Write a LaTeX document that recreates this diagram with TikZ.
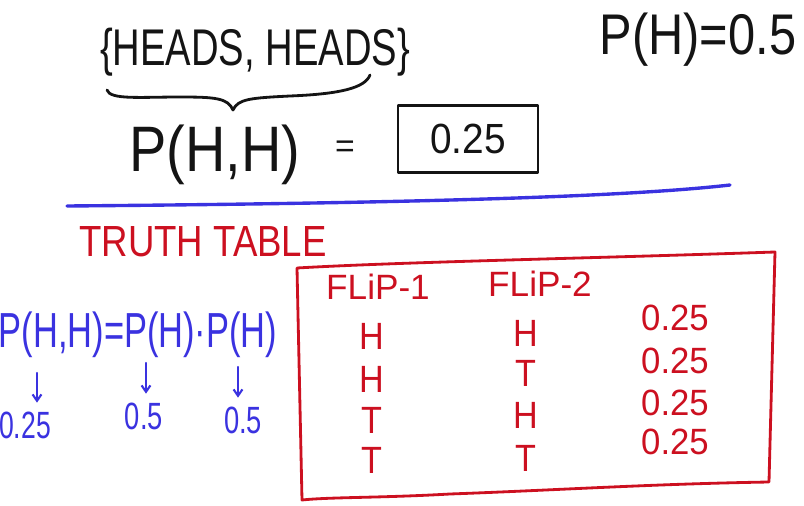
\documentclass[tikz,border=0pt]{standalone}
\usepackage{fontspec}
\setmainfont{Liberation Sans}
\usetikzlibrary{arrows.meta,positioning}
\definecolor{Ink}{HTML}{141414}
\definecolor{Pen}{HTML}{3A32E0}
\definecolor{Marker}{HTML}{CC1020}
\newcommand{\narrowtxt}[2]{\scalebox{#1}[1]{#2}}
\tikzset{
 pen/.style={line width=2pt,line cap=round,line join=round},
 word/.style={inner sep=1pt,text=Ink,font=\fontsize{#1}{#1}\selectfont},
 cell/.style={word=#1,text=Marker},
 cell/.default=27pt,
 blue/.style={word=27pt,text=Pen},
 arr/.style={-{Straight Barb[length=1.6mm,width=2.2mm]},pen,line width=1.5pt,draw=Pen,shorten >=1.8mm}
}

\begin{document}
\begin{tikzpicture}[x=0.025cm,y=-0.025cm]
\useasboundingbox (0,0) rectangle (804,506);
% Top: the joint outcome and its probability.
\node[word=36.7pt] (pair) at (255,52) {\narrowtxt{.74}{\{HEADS, HEADS\}}};
\draw[pen,Ink] (107,90) .. controls (110,100) and (140,97) .. (180,97)
 .. controls (215,97) and (228,98) .. (233,110)
 .. controls (238,99) and (250,98) .. (290,96)
 .. controls (340,94) and (365,88) .. (370,75);
\node[word=45.7pt] (joint) at (215,155) {\narrowtxt{.87}{P(H,H)}};
\node[word=24pt] (eq) at (345,149) {=};
\node[word=30pt,draw=Ink,pen,minimum width=3.5cm,minimum height=1.675cm] (ans) at (468,139) {\narrowtxt{.92}{0.25}};
\node[word=40.8pt] (single) at (698,40) {\narrowtxt{.85}{P(H)=0.5}};
\draw[pen,Pen,line width=2.4pt] (67,206) .. controls (300,204) and (600,200) .. (730,185);
% Truth table.
\node[word=31pt,text=Marker] (tt) at (203,242) {\narrowtxt{.84}{TRUTH TABLE}};
\draw[pen,Marker] (297,268) .. controls (400,262) and (600,258) .. (775,252) -- (769,482)
 .. controls (650,484) and (560,490) .. (450,494)
 .. controls (380,498) and (330,497) .. (302,500) -- cycle;
\node[cell=25pt] (f1) at (378,287) {FLiP-1};
\node[cell=25pt] (f2) at (540,284) {FLiP-2};
\foreach \i/\a/\ya/\b/\yb/\yp in {1/H/336/H/333/318,2/H/379/T/373/361,3/T/420/H/415/403,4/T/460/T/458/442} {
 \node[cell] (a\i) at (372,\ya) {\narrowtxt{.9}{\a}};
 \node[cell] (b\i) at (526,\yb) {\narrowtxt{.9}{\b}};
 \node[cell=26pt] (p\i) at (675,\yp) {\narrowtxt{.95}{0.25}};
}
% Product rule.
\node[word=35pt,text=Pen] (rule) at (138,335) {\narrowtxt{.70}{P(H,H)=P(H)·P(H)}};
\node[blue] (v1) at (25,425) {\narrowtxt{.7}{0.25}};
\node[blue] (v2) at (144,416) {\narrowtxt{.72}{0.5}};
\node[blue] (v3) at (243,420) {\narrowtxt{.72}{0.5}};
\coordinate (t1) at (37,373);
\coordinate (t2) at (146,363);
\coordinate (t3) at (238,367);
\draw[arr] (t1) -- (t1 |- v1.north);
\draw[arr] (t2) -- (t2 |- v2.north);
\draw[arr] (t3) -- (t3 |- v3.north);
\end{tikzpicture}
\end{document}
